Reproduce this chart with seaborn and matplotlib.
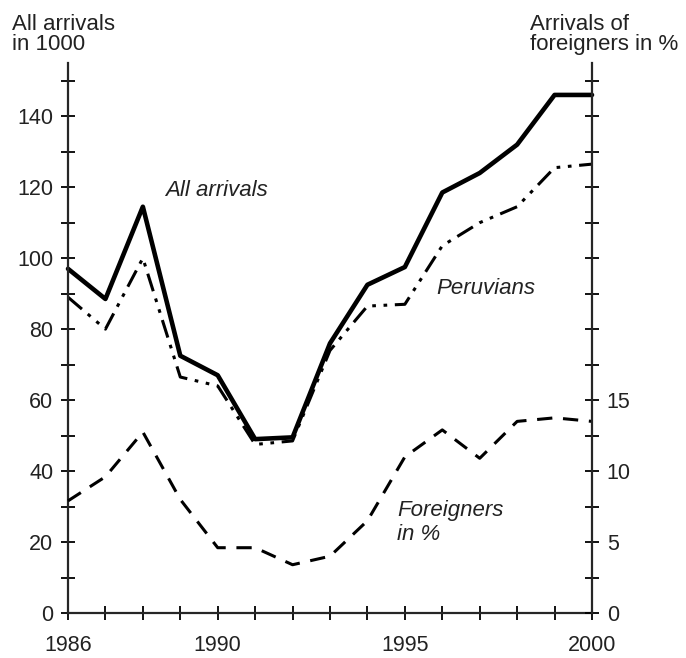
import numpy as np
import pandas as pd
import matplotlib
matplotlib.use('Agg')
import matplotlib.pyplot as plt
import seaborn as sns

sns.set_style('ticks')
plt.rcParams['font.family'] = ['Liberation Sans', 'DejaVu Sans']

## data
years = [1986, 1987, 1988, 1989, 1990, 1991, 1992, 1993, 1994, 1995, 1996, 1997, 1998, 1999, 2000]
all_arrivals = [97, 88.5, 114.5, 72.5, 67, 49, 49.5, 76, 92.5, 97.5, 118.5, 124, 132, 146, 146]
peruvians = [89, 80, 100, 66.5, 64, 47.5, 48.5, 74, 86.5, 87, 103.5, 110, 114.5, 125.5, 126.5]
foreigners_pct = [7.9, 9.6, 12.75, 8.0, 4.6, 4.6, 3.4, 4.0, 6.5, 11.0, 12.9, 10.9, 13.5, 13.75, 13.5]

left_ticks = list(range(0, 160, 20))
right_ticks = [0, 5, 10, 15]
x_labels = {1986: '1986', 1990: '1990', 1995: '1995', 2000: '2000'}

df = pd.DataFrame({'year': years, 'all': all_arrivals, 'peru': peruvians, 'pct': foreigners_pct})

fig = plt.figure(figsize=(6.86, 6.58), dpi=100)
ax = fig.add_axes([68/686, 45/658, (592-68)/686, (613-63)/658])
ax2 = ax.twinx()

txt = '#222222'
fs = 16
sns.lineplot(data=df, x='year', y='all', ax=ax, color='black', lw=3.3, clip_on=False)
ln = sns.lineplot(data=df, x='year', y='peru', ax=ax, color='black', lw=2.2, clip_on=False)
ln.lines[-1].set_dashes([6, 2.5, 1.2, 2.5, 1.2, 2.5])
sns.lineplot(data=df, x='year', y='pct', ax=ax2, color='black', lw=2.2, clip_on=False)
ax2.lines[-1].set_dashes([5, 3.5])

ax.set_xlim(1986, 2000)
ax.set_ylim(0, 155)
ax2.set_ylim(0, 155/4)

ax.set_xticks(years)
ax.set_xticklabels([x_labels.get(y, '') for y in years])
ax.set_yticks(range(0, 160, 10))
ax.set_yticklabels([str(v) if v in left_ticks else '' for v in range(0, 160, 10)])
rt = np.arange(0, 38.8, 2.5)
ax2.set_yticks(rt)
ax2.set_yticklabels([str(int(v)) if v in right_ticks else '' for v in rt])

for a in (ax, ax2):
    a.set_xlabel('')
    a.set_ylabel('')
    a.spines['top'].set_visible(False)
    for s in a.spines.values():
        s.set_linewidth(1.6)
    a.tick_params(axis='both', direction='inout', length=9.4, width=1.3,
                  labelsize=15.5, colors='black', labelcolor=txt, pad=6)
ax.spines['right'].set_visible(False)
ax2.spines['left'].set_visible(False)
ax2.spines['bottom'].set_visible(False)
ax.tick_params(axis='x', pad=11)
ax.patch.set_visible(False)

ax.text(1988.6, 119, 'All arrivals', style='italic', fontsize=fs, color=txt, va='center')
ax.text(1995.85, 91.5, 'Peruvians', style='italic', fontsize=fs, color=txt, va='center')
ax.text(1994.8, 25.5, 'Foreigners\nin %', style='italic', fontsize=fs, color=txt, va='center',
        linespacing=1.15)

fig.text(12/686, 1.0 - 50/658, 'All arrivals\nin 1000', fontsize=fs, color=txt, va='baseline',
         ha='left', linespacing=0.95)
fig.text(530/686, 1.0 - 50/658, 'Arrivals of\nforeigners in %', fontsize=fs, color=txt,
         va='baseline', ha='left', linespacing=0.95)

fig.savefig('out.png', dpi=100)
